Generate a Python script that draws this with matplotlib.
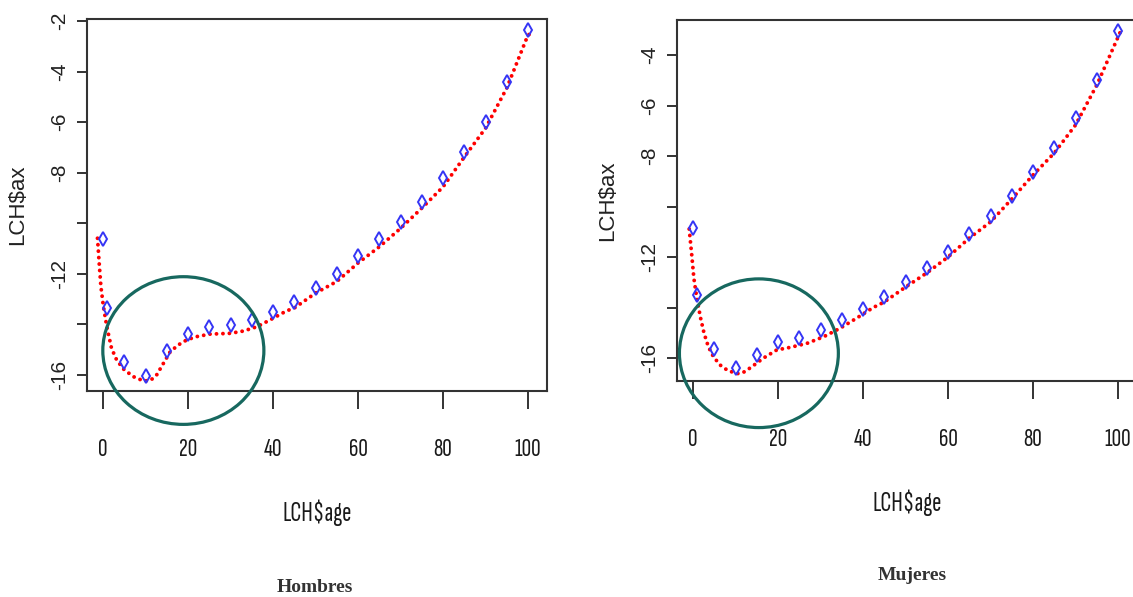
import matplotlib.pyplot as plt
from matplotlib.patches import Ellipse

plt.rcParams["axes.unicode_minus"] = False

# observed log-mortality points (same ages in both panels)
ages = [0, 1, 5, 10, 15, 20, 25, 30, 35, 40, 45, 50, 55, 60, 65, 70, 75, 80, 85, 90, 95, 100]
hombres_ax = [-10.63, -13.36, -15.47, -16.04, -15.05, -14.38, -14.11, -14.03, -13.82, -13.52, -13.1,
              -12.56, -12.0, -11.29, -10.62, -9.95, -9.16, -8.21, -7.18, -5.99, -4.41, -2.36]
mujeres_ax = [-10.86, -13.5, -15.66, -16.38, -15.88, -15.38, -15.22, -14.9, -14.5, -14.06, -13.58,
              -12.99, -12.43, -11.8, -11.1, -10.38, -9.58, -8.63, -7.68, -6.5, -4.97, -3.05]

# fitted curves (red dotted)
hombres_fit_age = [-1.3, -0.9, -0.5, 0.1, 0.9, 2.0, 3.2, 4.8, 7.1, 9.5, 11.1, 12.6, 14.2, 15.8, 17.7,
                   19.7, 22, 25.2, 29.9, 33, 36.2, 39.3, 43.2, 45, 50, 55, 60, 65, 70, 75, 80, 85,
                   90, 95, 100, 101.6]
hombres_fit = [-10.59, -11.58, -12.5, -13.3, -14.09, -14.94, -15.4, -15.76, -16.06, -16.23, -16.22,
               -16.0, -15.54, -15.08, -14.81, -14.61, -14.48, -14.38, -14.35, -14.26, -14.09, -13.82,
               -13.46, -13.35, -12.76, -12.3, -11.57, -10.93, -10.2, -9.4, -8.56, -7.38, -6.24,
               -4.65, -2.55, -2.45]
mujeres_fit_age = [-0.9, -0.3, 0.2, 0.9, 1.8, 2.6, 3.6, 4.8, 6.4, 8.3, 10.7, 12.2, 14.2, 16.5, 19.7,
                   22.8, 26.8, 30.7, 34.6, 38.5, 42.4, 45, 50, 55, 60, 65, 70, 75, 80, 85, 90, 95,
                   100.5]
mujeres_fit = [-10.89, -11.92, -12.84, -13.64, -14.43, -15.02, -15.55, -15.95, -16.28, -16.51,
               -16.62, -16.54, -16.3, -16.01, -15.68, -15.58, -15.42, -15.16, -14.82, -14.42,
               -14.0, -13.78, -13.19, -12.63, -12.0, -11.25, -10.61, -9.7, -8.75, -7.88, -6.77,
               -5.19, -3.1]

x_ticks = [0, 20, 40, 60, 80, 100]
hombres_yticks = [-2, -4, -6, -8, -10, -12, -14, -16]
hombres_ylabels = ["-2", "-4", "-6", "-8", "", "-12", "", "-16"]
mujeres_yticks = [-4, -6, -8, -10, -12, -14, -16]
mujeres_ylabels = ["-4", "-6", "-8", "", "-12", "", "-16"]

# highlight circles (centre x, centre y, width, height) in data units
hombres_circle = (18.9, -15.03, 37.9, 5.84)
mujeres_circle = (15.5, -15.81, 37.4, 5.89)

W, H = 1133, 597
DARK = "#333333"
TEAL = "#17685f"
NARROW = ["Sofia Sans Extra Condensed", "Roboto Condensed", "Liberation Sans"]
SANS = ["Liberation Sans", "DejaVu Sans"]


def px_rect(left, top, right, bottom):
    return [left / W, 1 - bottom / H, (right - left) / W, (bottom - top) / H]


def draw_panel(ax, y, fit_age, fit, yticks, ylabels, ylim, circle, title, title_xy):
    ax.plot(fit_age, fit, color="red", lw=2.8, linestyle=(0, (0.01, 1.65)),
            dash_capstyle="round", zorder=2)
    ax.plot(ages, y, linestyle="none", marker="d", ms=7.5, mfc="none",
            mec="#3535f5", mew=1.4, zorder=3)

    ax.set_xlim(-3.77, 104.47)
    ax.set_ylim(*ylim)
    ax.set_xticks(x_ticks)
    ax.set_xticklabels([str(t) for t in x_ticks], family=NARROW, fontsize=19,
                       fontweight="medium", color="#1a1a1a")
    ax.set_yticks(yticks)
    ax.set_yticklabels(ylabels, family=SANS, fontsize=15, rotation=90, va="center",
                       color="#222222")
    ax.tick_params(axis="x", length=13, width=1.4, color=DARK, pad=20.5)
    ax.tick_params(axis="y", length=7.2, width=1.4, color=DARK, pad=6)
    for sp in ax.spines.values():
        sp.set_color(DARK)
        sp.set_linewidth(1.5)

    axw = ax.get_position().width * W
    axh = ax.get_position().height * H
    ax.set_xlabel("LCH$age", family=NARROW, fontsize=20, fontweight="medium",
                  color="#1a1a1a")
    ax.xaxis.set_label_coords(0.5, -122 / axh)
    ax.xaxis.label.set_va("center")
    ax.set_ylabel("LCH$ax", family=SANS, fontsize=16, color="#222222")
    ax.yaxis.set_label_coords(-69 / axw, 0.5)
    ax.yaxis.label.set_va("center")

    cx, cy, cw, ch = circle
    ax.add_patch(Ellipse((cx, cy), cw, ch, fill=False, ec=TEAL, lw=2.3,
                         clip_on=False, zorder=4))

    fig.text(title_xy[0] / W, 1 - title_xy[1] / H, title, ha="center", va="center",
             family=["Liberation Serif", "DejaVu Serif"], fontweight="bold",
             fontsize=14, color=DARK)


fig = plt.figure(figsize=(W / 100, H / 100), dpi=100)
ax1 = fig.add_axes(px_rect(87, 19, 547, 391))
ax2 = fig.add_axes(px_rect(677, 20, 1137, 381))

draw_panel(ax1, hombres_ax, hombres_fit_age, hombres_fit, hombres_yticks, hombres_ylabels,
           (-16.63, -1.92), hombres_circle, "Hombres", (315, 587))
draw_panel(ax2, mujeres_ax, mujeres_fit_age, mujeres_fit, mujeres_yticks, mujeres_ylabels,
           (-16.91, -2.61), mujeres_circle, "Mujeres", (912, 575))

fig.savefig("out.png", dpi=100)
